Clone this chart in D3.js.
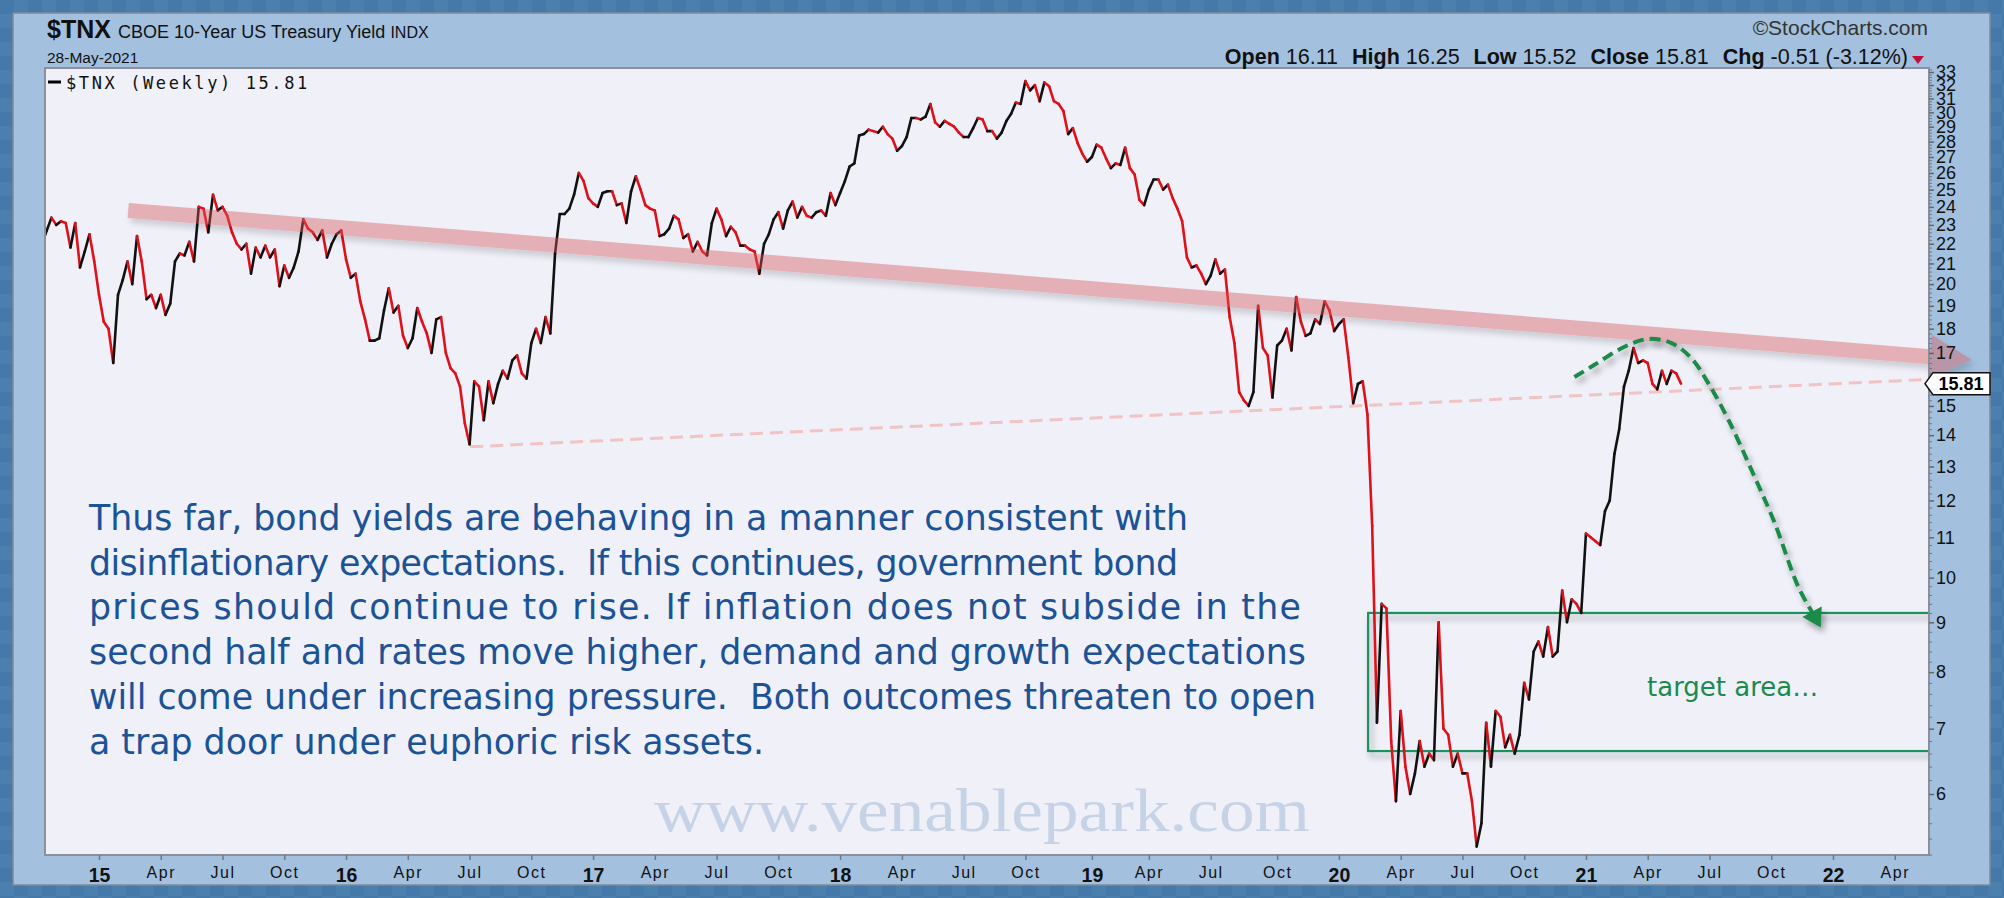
<!DOCTYPE html>
<html><head><meta charset="utf-8">
<script src="https://cdn.jsdelivr.net/npm/d3@7/dist/d3.min.js"></script>
<style>
body{margin:0;background:#4a7eae;overflow:hidden}
svg{display:block}
</style>
</head><body>
<svg id="chart" width="2004" height="898"></svg>
<script>
// ---------------- DATA (weekly closes of $TNX, Friday week-ending) ----------------
const firstWeekEnding = "2014-10-17";
const tnx2014 = [22.0,22.7,23.4,23.0,23.2,23.1,21.8,23.1,20.8,21.6,22.5];
const tnx2015 = [21.1,19.5,18.3,18.0,16.6,19.5,20.2,21.1,20.0,22.4,21.1,19.3,19.5,18.9,19.5,18.6,19.1,21.1,21.5,21.4,22.1,21.1,24.0,23.9,22.6,24.7,23.8,24.0,23.5,22.6,22.0,21.7,22.0,20.5,21.8,21.3,21.9,21.3,21.7,19.9,20.9,20.3,20.8,21.6,23.3,22.8,22.6,22.2,22.7,21.3,22.0,22.5];
const tnx2016 = [22.7,21.2,20.3,20.5,19.2,18.4,17.5,17.5,17.6,18.8,19.8,18.7,19.0,17.7,17.2,17.6,18.9,18.3,17.8,17.0,18.4,18.5,17.0,16.4,16.2,15.7,14.4,13.7,15.9,15.7,14.5,15.9,15.1,15.8,16.3,16.0,16.7,16.9,16.2,16.0,17.4,18.0,17.4,18.5,17.8,21.5,23.6,23.6,23.9,24.7,26.0,25.5,24.5];
const tnx2017 = [24.2,24.0,24.8,24.9,24.9,24.1,24.2,23.1,24.9,25.8,25.0,24.1,23.9,23.8,22.4,22.5,22.8,23.5,23.3,22.3,22.5,21.6,22.1,21.6,21.4,23.1,23.9,23.3,22.4,22.9,22.6,21.9,21.9,21.7,21.6,20.5,22.0,22.5,23.3,23.7,22.8,23.8,24.3,23.4,24.0,23.5,23.4,23.7,23.8,23.5,24.8,24.1];
const tnx2018 = [24.8,25.5,26.4,26.6,28.4,28.5,28.8,28.7,28.6,29.0,28.5,28.2,27.4,27.7,28.3,29.6,29.6,29.5,29.7,30.6,29.3,29.0,29.4,29.2,29.0,28.6,28.3,28.3,28.9,29.6,29.5,28.7,28.7,28.2,28.6,29.4,29.9,30.7,30.6,32.3,31.6,32.0,30.8,32.2,31.9,30.8,30.6,30.1,28.5,28.9,27.9,27.2];
const tnx2019 = [26.7,27.0,27.8,27.6,26.9,26.3,26.6,26.5,27.6,26.3,25.9,24.4,24.1,25.0,25.6,25.6,25.0,25.3,24.5,23.9,23.2,21.3,20.8,20.9,20.5,20.0,20.4,21.2,20.5,20.7,18.5,17.4,15.5,15.2,15.0,15.5,19.0,17.2,16.9,15.3,17.3,17.5,18.0,17.1,19.4,18.3,17.7,17.8,18.4,18.2,19.2,18.8];
const tnx2020 = [17.9,18.2,18.4,16.8,15.1,15.8,15.9,14.7,11.3,7.1,9.4,9.3,6.8,5.9,7.3,6.4,6.0,6.3,6.8,6.4,6.6,6.5,9.0,7.0,6.9,6.4,6.6,6.3,6.3,5.9,5.3,5.6,7.1,6.4,7.3,7.2,6.7,6.9,6.6,6.9,7.8,7.5,8.4,8.6,8.3,8.9,8.3,8.4,9.7,9.0,9.5,9.4];
const tnx2021 = [9.2,11.1,11.0,10.9,10.8,11.7,12.0,13.4,14.2,15.7,16.3,17.2,16.6,16.7,16.6,15.8,15.6,16.3,15.8,16.3,16.2,15.81];

const yTickValues = d3.range(6, 34);
const quarterMonths = [0, 3, 6, 9];
const monthNames = {3: "Apr", 6: "Jul", 9: "Oct"};

// hand-drawn annotations, in data space [date, value]
const resistanceLine = [["2015-02-17", 23.8], ["2022-05-26", 16.85]];
const supportLine = [["2016-07-05", 13.62], ["2022-05-24", 15.97]];
const targetZone = {from: "2020-02-18", low: 6.64, high: 9.2};
const projectionPath = [["2020-12-18",16.06],["2021-01-16",16.52],["2021-03-01",17.24],["2021-04-06",17.57],["2021-05-10",17.40],["2021-06-08",16.80],["2021-07-03",15.84],["2021-08-02",14.51],["2021-09-05",12.89],["2021-10-09",11.38],["2021-11-13",9.78],["2021-12-06",9.15]];

const commentary = [
  "Thus far, bond yields are behaving in a manner consistent with",
  "disinflationary expectations.  If this continues, government bond",
  "prices should continue to rise. If inflation does not subside in the",
  "second half and rates move higher, demand and growth expectations",
  "will come under increasing pressure.  Both outcomes threaten to open",
  "a trap door under euphoric risk assets."
];
const commentaryWidths = [1099, 1089, 1212, 1217, 1227, 675];
const ohlc = [["Open","16.11"],["High","16.25"],["Low","15.52"],["Close","15.81"],["Chg","-0.51 (-3.12%)"]];

// ---------------- LAYOUT ----------------
const W = 2004, H = 898;
const plot = {l: 45, t: 68, r: 1929, b: 855};
const svg = d3.select("#chart");
const defs = svg.append("defs");

const pat = defs.append("pattern").attr("id","chk").attr("width",28).attr("height",28).attr("patternUnits","userSpaceOnUse");
pat.append("rect").attr("width",28).attr("height",28).attr("fill","#4a7fae");
pat.append("rect").attr("width",14).attr("height",14).attr("fill","#4579a9");
pat.append("rect").attr("x",14).attr("y",14).attr("width",14).attr("height",14).attr("fill","#4579a9");

const sh = defs.append("filter").attr("id","shadow").attr("x","-10%").attr("y","-30%").attr("width","130%").attr("height","180%");
sh.append("feGaussianBlur").attr("in","SourceAlpha").attr("stdDeviation",3).attr("result","b");
sh.append("feOffset").attr("in","b").attr("dx",3).attr("dy",5).attr("result","o");
sh.append("feComponentTransfer").attr("in","o").attr("result","o2").append("feFuncA").attr("type","linear").attr("slope",0.35);
const mg = sh.append("feMerge"); mg.append("feMergeNode").attr("in","o2"); mg.append("feMergeNode").attr("in","SourceGraphic");

defs.append("clipPath").attr("id","plotclip").append("rect")
  .attr("x",plot.l).attr("y",plot.t).attr("width",plot.r-plot.l).attr("height",plot.b-plot.t);

svg.append("rect").attr("width",W).attr("height",H).attr("fill","url(#chk)");
svg.append("rect").attr("x",13).attr("y",13).attr("width",1977).attr("height",872)
  .attr("fill","#a3c1df").attr("stroke","#7f8b99").attr("stroke-width",1.5);
svg.append("rect").attr("x",plot.l).attr("y",plot.t).attr("width",plot.r-plot.l).attr("height",plot.b-plot.t)
  .attr("fill","#eff0f8");

// ---------------- SCALES ----------------
const parse = d3.utcParse("%Y-%m-%d");
const x = d3.scaleUtc().domain([new Date(Date.UTC(2015,0,5)), new Date(Date.UTC(2022,0,3))]).range([99,1833]);
const y = d3.scaleLog().domain([6,33]).range([794,72]);

const values = [].concat(tnx2014,tnx2015,tnx2016,tnx2017,tnx2018,tnx2019,tnx2020,tnx2021);
const start = parse(firstWeekEnding);
const series = values.map((v,i) => ({date: d3.utcDay.offset(start, 7*i - 4), v}));

// ---------------- commentary text & watermark ----------------
svg.append("text").attr("x",982).attr("y",831).attr("text-anchor","middle")
  .attr("font-family","'Liberation Serif','Times New Roman',serif").attr("font-size",62)
  .attr("fill","#c6d3e6").attr("textLength",656).attr("lengthAdjust","spacingAndGlyphs")
  .text("www.venablepark.com");

const para = svg.append("g").attr("font-family","'DejaVu Sans','Lucida Grande',Verdana,sans-serif")
  .attr("font-size",34.8).attr("fill","#1c5296");
para.selectAll("text").data(commentary).join("text")
  .attr("x",89).attr("y",(d,i)=>530 + i*44.7)
  .attr("textLength",(d,i)=>commentaryWidths[i]).attr("lengthAdjust","spacing")
  .attr("xml:space","preserve").style("white-space","pre").text(d=>d);

const g = svg.append("g").attr("clip-path","url(#plotclip)");

g.append("rect")
  .attr("x", x(parse(targetZone.from))).attr("y", y(targetZone.high))
  .attr("width", plot.r - x(parse(targetZone.from)) + 4).attr("height", y(targetZone.low)-y(targetZone.high))
  .attr("fill","none").attr("stroke","#1e9160").attr("stroke-width",2.2).attr("filter","url(#shadow)");

g.append("line")
  .attr("x1", x(parse(supportLine[0][0]))).attr("y1", y(supportLine[0][1]))
  .attr("x2", x(parse(supportLine[1][0]))).attr("y2", y(supportLine[1][1]))
  .attr("stroke","#f1c3c3").attr("stroke-width",3).attr("stroke-dasharray","13,7");

// ---------------- PRICE LINE ----------------
const segs = d3.pairs(series);
g.append("g").selectAll("line").data(segs).join("line")
  .attr("x1",d=>x(d[0].date)).attr("y1",d=>y(d[0].v))
  .attr("x2",d=>x(d[1].date)).attr("y2",d=>y(d[1].v))
  .attr("stroke",d=> d[1].v < d[0].v ? "#e0101a" : "#111")
  .attr("stroke-width",2.6).attr("stroke-linecap","round");

// resistance band
const r0 = [x(parse(resistanceLine[0][0])), y(resistanceLine[0][1])];
const r1 = [x(parse(resistanceLine[1][0])), y(resistanceLine[1][1])];
const band = svg.append("g").attr("filter","url(#shadow)").attr("opacity",0.42);
band.append("line").attr("x1",r0[0]).attr("y1",r0[1]).attr("x2",r1[0]).attr("y2",r1[1])
  .attr("stroke","#d65a5c").attr("stroke-width",15);
const ang = Math.atan2(r1[1]-r0[1], r1[0]-r0[0]);
const tip = [r1[0]+42*Math.cos(ang), r1[1]+42*Math.sin(ang)];
const px = -Math.sin(ang), py = Math.cos(ang);
band.append("polygon").attr("points", [
   [r1[0]+px*22, r1[1]+py*22], tip, [r1[0]-px*22, r1[1]-py*22]
 ].map(p=>p.join(",")).join(" ")).attr("fill","#d65a5c");

// projection arrow
const proj = projectionPath.map(d=>[x(parse(d[0])), y(d[1])]);
const pg = svg.append("g").attr("filter","url(#shadow)");
pg.append("path").attr("d", d3.line().curve(d3.curveCatmullRom)(proj))
  .attr("fill","none").attr("stroke","#1a8a48").attr("stroke-width",4).attr("stroke-dasharray","11,6");
const pe = proj[proj.length-1], pb = proj[proj.length-2];
const a2 = Math.atan2(pe[1]-pb[1], pe[0]-pb[0]);
const ht = [pe[0]+14*Math.cos(a2), pe[1]+14*Math.sin(a2)];
pg.append("polygon").attr("points",[
  [pe[0]-11*Math.sin(a2)-4*Math.cos(a2), pe[1]+11*Math.cos(a2)-4*Math.sin(a2)], ht,
  [pe[0]+11*Math.sin(a2)-4*Math.cos(a2), pe[1]-11*Math.cos(a2)-4*Math.sin(a2)]
].map(p=>p.join(",")).join(" ")).attr("fill","#1a8a48");

svg.append("text").attr("x",1647).attr("y",696)
  .attr("font-family","'DejaVu Sans','Lucida Grande',Verdana,sans-serif").attr("font-size",26)
  .attr("fill","#1b8b4c").text("target area…");

svg.append("rect").attr("x",plot.l).attr("y",plot.t).attr("width",plot.r-plot.l).attr("height",plot.b-plot.t)
  .attr("fill","none").attr("stroke","#8c8f9c").attr("stroke-width",2);

// ---------------- AXES ----------------
const tickDates = [];
for (let yr = 2014; yr <= 2022; yr++) for (const m of quarterMonths) {
  const d = d3.utcMonday.ceil(new Date(Date.UTC(yr, m, 1)));
  if (x(d) >= plot.l && x(d) <= plot.r) tickDates.push(d);
}
const xAxis = d3.axisBottom(x).tickValues(tickDates).tickSize(5).tickPadding(4)
  .tickFormat(d => d.getUTCMonth()===0 ? String(d.getUTCFullYear()).slice(2) : monthNames[d.getUTCMonth()]);
const gx = svg.append("g").attr("transform",`translate(0,${plot.b})`).call(xAxis);
gx.select(".domain").remove();
gx.selectAll(".tick line").attr("stroke","#777").attr("stroke-width",1.5);
gx.selectAll(".tick text").attr("fill","#111").attr("font-family","'Liberation Sans',Arial,sans-serif")
  .attr("font-size",16).attr("letter-spacing",1.5).attr("dy","0.9em")
  .each(function(){ const t=d3.select(this); if(/^\d+$/.test(t.text())) t.attr("font-weight","bold").attr("font-size",19.5).attr("letter-spacing",0); });

const lastV = series[series.length-1].v, ly = y(lastV);

const minorVals = d3.range(52, 334, 2).map(v=>v/10).filter(v=>!Number.isInteger(v));
const gyMinor = svg.append("g").attr("transform",`translate(${plot.r},0)`)
  .call(d3.axisRight(y).tickValues(minorVals).tickSize(3).tickFormat(""));
gyMinor.select(".domain").remove();
gyMinor.selectAll(".tick line").attr("stroke","#777");
const gy = svg.append("g").attr("transform",`translate(${plot.r},0)`)
  .call(d3.axisRight(y).tickValues(yTickValues).tickSize(5).tickPadding(2)
    .tickFormat(v => Math.abs(y(v) - ly) < 15 ? "" : d3.format("d")(v)));
gy.select(".domain").remove();
gy.selectAll(".tick line").attr("stroke","#666").attr("stroke-width",1.5);
gy.selectAll(".tick text").attr("fill","#111").attr("font-family","'Liberation Sans',Arial,sans-serif").attr("font-size",18);

// last value tag
svg.append("polygon").attr("points",`${plot.r-4},${ly} ${plot.r+4},${ly-11} 1990,${ly-11} 1990,${ly+11} ${plot.r+4},${ly+11}`)
  .attr("fill","#fff").attr("stroke","#111").attr("stroke-width",1.5);
svg.append("text").attr("x",1961).attr("y",ly+6.5).attr("text-anchor","middle")
  .attr("font-family","'Liberation Sans',Arial,sans-serif").attr("font-weight","bold").attr("font-size",18)
  .attr("fill","#000").text(d3.format(".2f")(lastV));

// ---------------- HEADER ----------------
const hdr = svg.append("text").attr("x",47).attr("y",38).attr("font-family","'Liberation Sans',Arial,sans-serif").attr("fill","#111");
hdr.append("tspan").attr("font-weight","bold").attr("font-size",25).text("$TNX");
hdr.append("tspan").attr("font-size",18).attr("dx",7).text("CBOE 10-Year US Treasury Yield");
hdr.append("tspan").attr("font-size",16).attr("dx",5).text("INDX");
svg.append("text").attr("x",47).attr("y",63).attr("font-family","'Liberation Sans',Arial,sans-serif")
  .attr("font-size",15.5).attr("fill","#111").text("28-May-2021");
svg.append("text").attr("x",1928).attr("y",35).attr("text-anchor","end").attr("font-family","'Liberation Sans',Arial,sans-serif")
  .attr("font-size",21).attr("fill","#333").text("©StockCharts.com");
const oh = svg.append("text").attr("x",1908).attr("y",64).attr("text-anchor","end")
  .attr("font-family","'Liberation Sans',Arial,sans-serif").attr("font-size",21.5).attr("fill","#111");
ohlc.forEach((p,i)=>{
  oh.append("tspan").attr("font-weight","bold").attr("dx", i? 14:0).text(p[0]);
  oh.append("tspan").attr("dx",6).text(p[1]);
});
svg.append("polygon").attr("points","1912,56 1924,56 1918,64").attr("fill","#c0103a");

// legend
svg.append("line").attr("x1",48).attr("y1",82).attr("x2",61).attr("y2",82).attr("stroke","#000").attr("stroke-width",3);
svg.append("text").attr("x",66).attr("y",89).attr("font-family","'DejaVu Sans Mono',monospace")
  .attr("font-size",17).attr("letter-spacing",2.6).attr("fill","#111").text("$TNX (Weekly) " + lastV.toFixed(2));
</script>
</body></html>
